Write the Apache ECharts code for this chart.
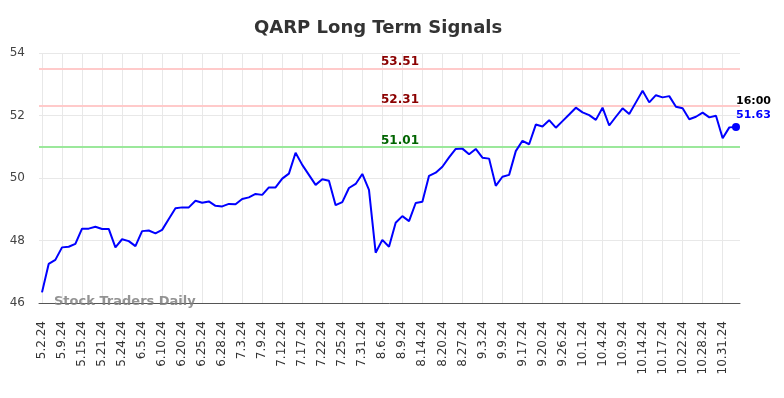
<!DOCTYPE html>
<html>
<head>
<meta charset="utf-8">
<script src="https://cdn.jsdelivr.net/npm/echarts@6/dist/echarts.min.js"></script>
<style>
  html, body { margin: 0; padding: 0; background: #fff; }
  #chart { width: 784px; height: 398px; }
</style>
</head>
<body>
<div id="chart"></div>
<script>
// tick labels, one every 3 points
const ticks = ['5.2.24', '5.9.24', '5.15.24', '5.21.24', '5.24.24', '6.5.24', '6.10.24', '6.20.24',
    '6.25.24', '6.28.24', '7.3.24', '7.9.24', '7.12.24', '7.17.24', '7.22.24', '7.25.24', '7.31.24',
    '8.6.24', '8.9.24', '8.14.24', '8.20.24', '8.27.24', '9.3.24', '9.9.24', '9.17.24', '9.20.24',
    '9.26.24', '10.1.24', '10.4.24', '10.9.24', '10.14.24', '10.17.24', '10.22.24', '10.28.24', '10.31.24'];

// closing prices
const prices = [46.34, 47.25, 47.38, 47.78, 47.80, 47.89, 48.38, 48.38, 48.44, 48.37,
    48.37, 47.78, 48.04, 47.98, 47.82, 48.30, 48.32, 48.23, 48.34, 48.69,
    49.03, 49.06, 49.06, 49.27, 49.21, 49.25, 49.11, 49.09, 49.17, 49.16,
    49.33, 49.38, 49.49, 49.46, 49.70, 49.70, 49.98, 50.14, 50.81, 50.42,
    50.10, 49.78, 49.96, 49.91, 49.13, 49.23, 49.68, 49.81, 50.13, 49.62,
    47.61, 48.02, 47.80, 48.57, 48.78, 48.62, 49.20, 49.24, 50.07, 50.17,
    50.36, 50.66, 50.93, 50.94, 50.76, 50.93, 50.65, 50.62, 49.75, 50.04,
    50.10, 50.86, 51.19, 51.08, 51.71, 51.65, 51.85, 51.61, 51.82, 52.03,
    52.25, 52.10, 52.01, 51.86, 52.25, 51.68, 51.96, 52.23, 52.05, 52.42,
    52.79, 52.42, 52.65, 52.58, 52.62, 52.28, 52.23, 51.88, 51.96, 52.09,
    51.94, 51.99, 51.27, 51.62, 51.63];

const resistance = [53.51, 52.31];
const support = [51.01];
const yTicks = [46, 54, 2]; // min, max, step
const lastTime = '16:00';

const categories = prices.map((_, i) => String(i));
const lastIdx = prices.length - 1;

const myChart = echarts.init(document.getElementById('chart'));

const levelLines = [];
resistance.forEach((v) => {
    levelLines.push({ yAxis: v, lineStyle: { color: '#ffcaca' }, label: { color: '#8b0000' } });
});
support.forEach((v) => {
    levelLines.push({ yAxis: v, lineStyle: { color: '#9be89b' }, label: { color: '#006400' } });
});

const option = {
    animation: false,
    backgroundColor: '#fff',
    textStyle: { fontFamily: 'DejaVu Sans' },
    title: {
        text: 'QARP Long Term Signals',
        left: 249,
        top: 14,
        textStyle: { fontSize: 18, fontWeight: 'bold', color: '#333', fontFamily: 'DejaVu Sans' }
    },
    graphic: [{
        type: 'text',
        left: 54,
        top: 295,
        z: 10,
        style: {
            text: 'Stock Traders Daily',
            fill: 'rgba(128,128,128,0.85)',
            font: 'bold 13px "DejaVu Sans"'
        }
    }],
    grid: [
        // background grid: horizontal lines, level lines, bottom axis
        { left: 39, right: 44, top: 53, bottom: 95 },
        // price line grid
        { left: 42, right: 48, top: 53, bottom: 95 }
    ],
    xAxis: [
        {
            gridIndex: 0,
            type: 'value',
            min: 0,
            max: 1,
            axisLabel: { show: false },
            axisTick: { show: false },
            splitLine: { show: false },
            axisLine: { show: true, lineStyle: { color: '#555', width: 1 } }
        },
        {
            gridIndex: 1,
            type: 'category',
            data: categories,
            boundaryGap: false,
            axisLine: { show: false },
            axisTick: { show: false },
            axisLabel: {
                interval: 2,
                rotate: 90,
                margin: 18,
                fontSize: 12,
                color: '#333',
                formatter: (v, i) => ticks[Math.round(i / 3)] || ''
            },
            splitLine: { show: true, interval: 2, lineStyle: { color: '#e8e8e8', width: 1 } }
        }
    ],
    yAxis: [
        {
            gridIndex: 0,
            type: 'value',
            min: yTicks[0],
            max: yTicks[1],
            interval: yTicks[2],
            axisLine: { show: false },
            axisTick: { show: false },
            axisLabel: { fontSize: 12, color: '#444', margin: 14 },
            splitLine: { lineStyle: { color: '#e8e8e8', width: 1 } }
        },
        {
            gridIndex: 1,
            type: 'value',
            min: yTicks[0],
            max: yTicks[1],
            show: false,
            splitLine: { show: false }
        }
    ],
    series: [
        {
            name: 'levels',
            type: 'line',
            xAxisIndex: 0,
            yAxisIndex: 0,
            data: [],
            markLine: {
                silent: true,
                symbol: 'none',
                lineStyle: { type: 'solid', width: 2 },
                label: {
                    show: true,
                    position: 'middle',
                    distance: 0,
                    fontSize: 12,
                    fontWeight: 'bold',
                    padding: [0, 0, 0, 21],
                    formatter: (p) => p.value.toFixed(2)
                },
                data: levelLines
            }
        },
        {
            name: 'QARP',
            type: 'line',
            xAxisIndex: 1,
            yAxisIndex: 1,
            z: 5,
            data: prices,
            showSymbol: false,
            lineStyle: { color: '#0000ff', width: 2 },
            itemStyle: { color: '#0000ff' }
        },
        {
            name: 'last',
            type: 'scatter',
            xAxisIndex: 1,
            yAxisIndex: 1,
            z: 6,
            symbolSize: 8,
            itemStyle: { color: '#0000ff', opacity: 1 },
            data: [[categories[lastIdx], prices[lastIdx]]],
            label: {
                show: true,
                position: 'top',
                align: 'left',
                distance: 1,
                opacity: 1,
                formatter: (p) => '{t|' + lastTime + '}\n{v|' + p.value[1].toFixed(2) + '}',
                rich: {
                    t: { fontSize: 11, fontWeight: 'bold', color: '#000', lineHeight: 14 },
                    v: { fontSize: 11, fontWeight: 'bold', color: '#0000ff', lineHeight: 14 }
                }
            }
        }
    ]
};

myChart.setOption(option);
</script>
</body>
</html>
